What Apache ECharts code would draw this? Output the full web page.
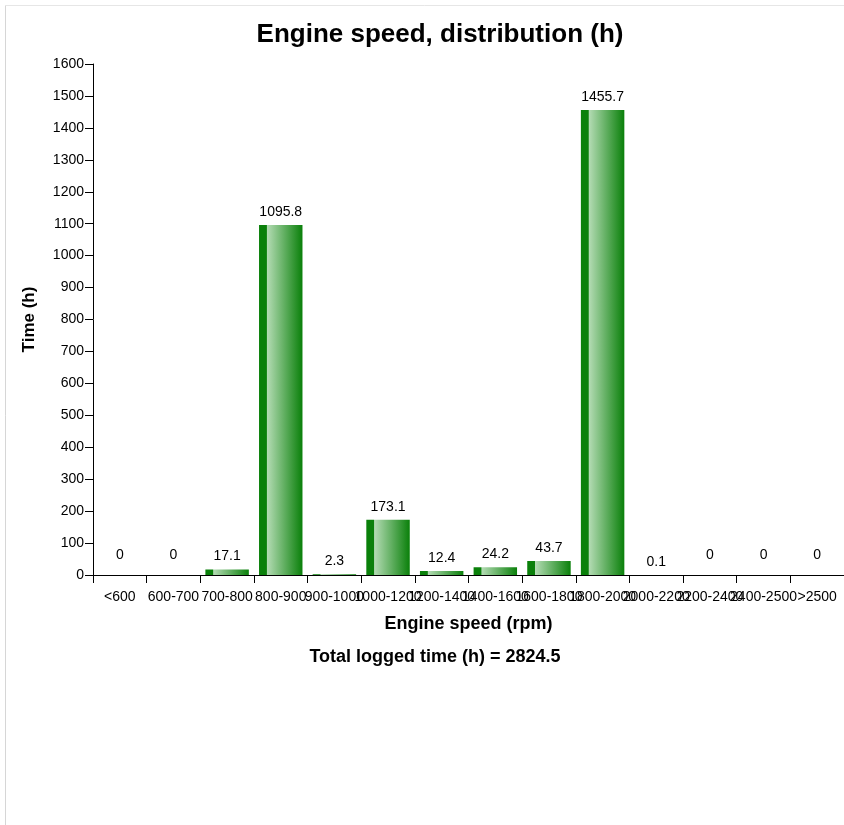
<!DOCTYPE html>
<html>
<head>
<meta charset="utf-8">
<script src="https://cdn.jsdelivr.net/npm/echarts@6/dist/echarts.min.js"></script>
<style>
html,body{margin:0;padding:0;background:#fff;}
#c{width:844px;height:825px;}
</style>
</head>
<body>
<div id="c"></div>
<script>
const categories = ["<600","600-700","700-800","800-900","900-1000","1000-1200","1200-1400","1400-1600","1600-1800","1800-2000","2000-2200","2200-2400","2400-2500",">2500"];
const hours = [0, 0, 17.1, 1095.8, 2.3, 173.1, 12.4, 24.2, 43.7, 1455.7, 0.1, 0, 0, 0];
const yTicks = {min: 0, max: 1600, interval: 100};
const totalLabel = "Total logged time (h) = 2824.5";

const font = "'Liberation Sans', Arial, sans-serif";
const chart = echarts.init(document.getElementById('c'), null, {renderer: 'canvas'});

const barColor = new echarts.graphic.LinearGradient(0, 0, 1, 0, [
  {offset: 0, color: '#0a800a'},
  {offset: 0.17, color: '#0a800a'},
  {offset: 0.19, color: '#b3dbb3'},
  {offset: 1, color: '#0a800a'}
]);

chart.setOption({
  animation: false,
  textStyle: {fontFamily: font},
  title: {
    text: 'Engine speed, distribution (h)',
    left: 435, top: 17, textAlign: 'center',
    textStyle: {fontSize: 26, fontWeight: 'bold', color: '#000', fontFamily: font}
  },
  graphic: [
    {type: 'line', shape: {x1: 5.5, y1: 5.5, x2: 844, y2: 5.5}, style: {stroke: '#e6e6e6', lineWidth: 1}},
    {type: 'line', shape: {x1: 5.5, y1: 5.5, x2: 5.5, y2: 825}, style: {stroke: '#d6d6d6', lineWidth: 1}},
    {type: 'text', x: 435, y: 657, style: {text: totalLabel, textAlign: 'center', textVerticalAlign: 'middle', font: 'bold 18px ' + font, fill: '#000'}}
  ],
  grid: {left: 93, top: 64, width: 756, height: 511, containLabel: false},
  xAxis: {
    type: 'category',
    data: categories,
    name: 'Engine speed (rpm)',
    nameLocation: 'middle',
    nameGap: 49,
    nameTextStyle: {fontSize: 18, fontWeight: 'bold', color: '#000', fontFamily: font, verticalAlign: 'middle'},
    axisLine: {lineStyle: {color: '#000', width: 1}},
    axisTick: {show: true, length: 8, lineStyle: {color: '#000'}},
    axisLabel: {interval: 0, hideOverlap: false, color: '#000', fontSize: 14, margin: 15, fontFamily: font}
  },
  yAxis: {
    type: 'value',
    min: yTicks.min, max: yTicks.max, interval: yTicks.interval,
    name: 'Time (h)',
    nameLocation: 'middle',
    nameGap: 55,
    nameTextStyle: {fontSize: 17, fontWeight: 'bold', color: '#000', fontFamily: font},
    axisLine: {show: true, lineStyle: {color: '#000', width: 1}},
    axisTick: {show: true, length: 8, lineStyle: {color: '#000'}},
    splitLine: {show: false},
    axisLabel: {color: '#000', fontSize: 14, margin: 9, fontFamily: font, formatter: v => String(v)}
  },
  series: [{
    type: 'bar',
    barWidth: '81%',
    data: hours.map(v => ({
      value: v,
      label: {distance: v === 0 ? 13 : 6}
    })),
    itemStyle: {color: barColor},
    label: {
      show: true, position: 'top', color: '#000', fontSize: 14, fontFamily: font,
      formatter: p => String(p.value)
    }
  }]
});
</script>
</body>
</html>
